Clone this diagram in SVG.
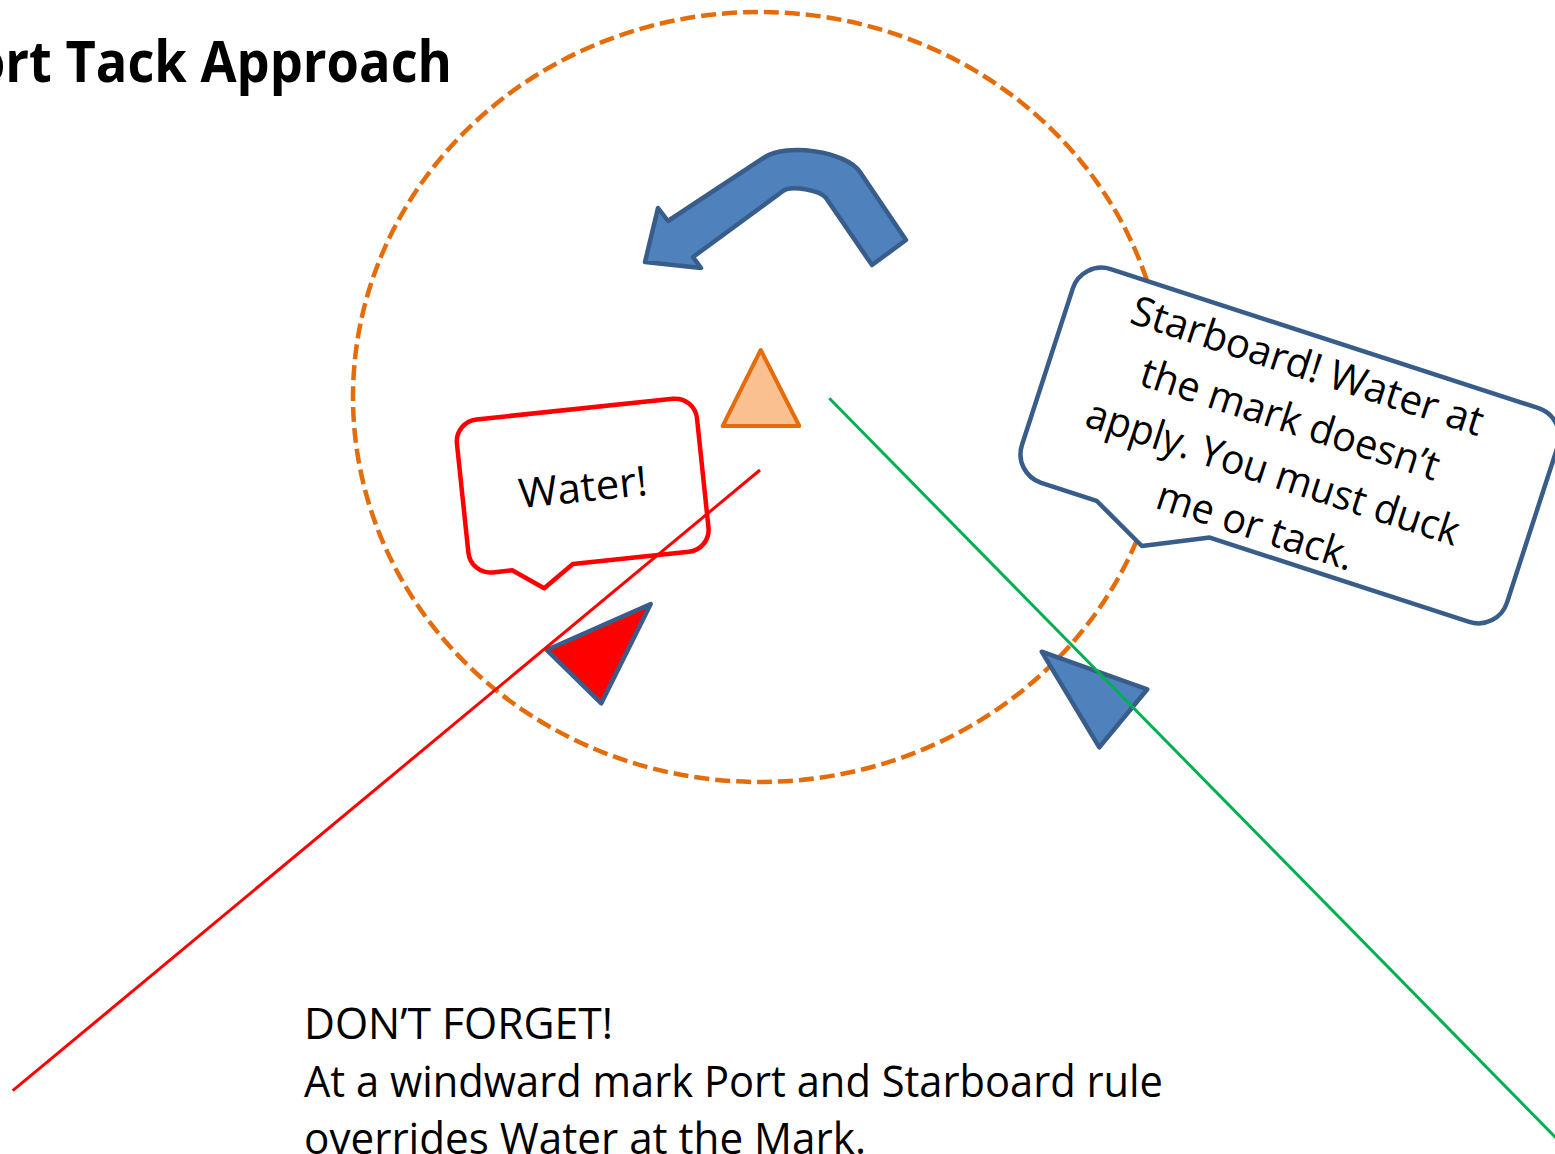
<svg xmlns="http://www.w3.org/2000/svg" width="1555" height="1154" viewBox="0 0 1555 1154">
  <style>
    .txt { font-family: "Open Sans", "Liberation Sans", sans-serif; fill: #000000; }
    .title { font-weight: bold; font-size: 57px; }
    .bubble-text { font-size: 41px; text-anchor: middle; }
    .note { font-size: 43.5px; }
    .zone { fill: none; stroke: #E46C0A; stroke-width: 4.5; stroke-dasharray: 15 6; }
    .blue-shape { fill: #4F81BD; stroke: #385D8A; stroke-width: 4.5; stroke-linejoin: round; }
    .track { fill: none; stroke-width: 3; stroke-linecap: butt; }
  </style>

  <rect width="1555" height="1154" fill="#FFFFFF"/>

  <!-- Heading (starts left of the page edge) -->
  <text class="txt title" x="-60" y="82" textLength="512" lengthAdjust="spacingAndGlyphs">Port Tack Approach</text>

  <!-- Zone around the mark -->
  <ellipse class="zone" cx="759.5" cy="397" rx="406.5" ry="385"/>

  <!-- Curved turning arrow -->
  <g id="turn-arrow">
    <path class="blue-shape" d="M 645,262 L 658,208 L 668,221 L 765,157 C 786,143 846,151 860,172 L 906,240 L 872,265 L 826,198 C 820,190 791,185 783,191 L 693,257 L 701,268 Z"/>
  </g>

  <!-- Windward mark -->
  <g id="mark">
    <polygon points="760.7,350 722.7,426 799.3,426" fill="#FAC090" stroke="#E46C0A" stroke-width="4" stroke-linejoin="round"/>
  </g>

  <!-- Port boat's call -->
  <g id="water-callout" transform="translate(582.7 485.6) rotate(-6)">
    <path d="M -98.7,-76.9 H 98.7 A 22 22 0 0 1 120.7,-54.9 V 54.9 A 22 22 0 0 1 98.7,76.9 H -18 L -49,98 L -79,76.9 H -98.7 A 22 22 0 0 1 -120.7,54.9 V -54.9 A 22 22 0 0 1 -98.7,-76.9 Z" fill="#FFFFFF" stroke="#FF0000" stroke-width="4.5" stroke-linejoin="round"/>
    <text class="txt bubble-text" x="0" y="16" textLength="129" lengthAdjust="spacingAndGlyphs">Water!</text>
  </g>

  <!-- Starboard boat's reply -->
  <g id="starboard-callout" transform="translate(1289.9 445.5) rotate(18)">
    <path d="M -225,-112.3 H 225 A 30 30 0 0 1 255,-82.3 V 82.3 A 30 30 0 0 1 225,112.3 H -47.75 L -109.75,141.3 L -166.75,112.3 H -225 A 30 30 0 0 1 -255,82.3 V -82.3 A 30 30 0 0 1 -225,-112.3 Z" fill="#FFFFFF" stroke="#385D8A" stroke-width="4.5" stroke-linejoin="round"/>
    <text class="txt bubble-text" x="-7.75" y="-67" textLength="368" lengthAdjust="spacingAndGlyphs">Starboard! Water at</text>
    <text class="txt bubble-text" x="-7.75" y="-11" textLength="312" lengthAdjust="spacingAndGlyphs">the mark doesn’t</text>
    <text class="txt bubble-text" x="-7.75" y="45" textLength="390" lengthAdjust="spacingAndGlyphs">apply. You must duck</text>
    <text class="txt bubble-text" x="-7.75" y="101" textLength="205" lengthAdjust="spacingAndGlyphs">me or tack.</text>
  </g>

  <!-- Port-tack boat -->
  <g id="port-boat">
    <polygon points="546.7,650 650.7,604 601.3,703.3" fill="#FF0000" stroke="#385D8A" stroke-width="4.5" stroke-linejoin="round"/>
  </g>

  <!-- Starboard-tack boat -->
  <g id="starboard-boat">
    <polygon class="blue-shape" points="1041.7,651.7 1147.3,689.3 1099.3,747.3"/>
  </g>

  <!-- Boat tracks -->
  <g id="connectors">
    <line class="track" x1="12.7" y1="1090.7" x2="760" y2="470" stroke="#FF0000"/>
    <line class="track" x1="829.3" y1="398.3" x2="1558" y2="1140" stroke="#00B050"/>
  </g>

  <!-- Reminder -->
  <g id="reminder">
    <text class="txt note" x="304" y="1039" textLength="309" lengthAdjust="spacingAndGlyphs">DON’T FORGET!</text>
    <text class="txt note" x="304" y="1097" textLength="859" lengthAdjust="spacingAndGlyphs">At a windward mark Port and Starboard rule</text>
    <text class="txt note" x="304" y="1154" textLength="562" lengthAdjust="spacingAndGlyphs">overrides Water at the Mark.</text>
  </g>
</svg>
